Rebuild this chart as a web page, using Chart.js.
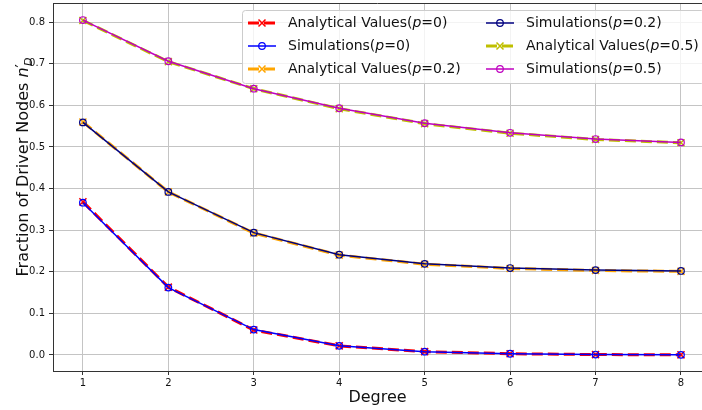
<!DOCTYPE html>
<html>
<head>
<meta charset="utf-8">
<script src="https://cdn.jsdelivr.net/npm/chart.js"></script>
<style>
html, body { margin: 0; padding: 0; background: #fff; }
#wrap { width: 702px; height: 410px; position: relative; }
</style>
</head>
<body>
<div id="wrap"><canvas id="driverNodesChart"></canvas></div>
<script>
// values
const degrees = [1, 2, 3, 4, 5, 6, 7, 8];
const yTickValues = [0, 0.1, 0.2, 0.3, 0.4, 0.5, 0.6, 0.7, 0.8];

const analyticalP0 = [0.368, 0.163, 0.060, 0.022, 0.008, 0.003, 0.001, 0.0004];
const simulationsP0 = [0.366, 0.162, 0.061, 0.022, 0.008, 0.003, 0.001, 0.0003];
const analyticalP02 = [0.560, 0.392, 0.293, 0.240, 0.218, 0.208, 0.203, 0.201];
const simulationsP02 = [0.559, 0.392, 0.294, 0.241, 0.219, 0.209, 0.204, 0.202];
const analyticalP05 = [0.804, 0.705, 0.640, 0.592, 0.556, 0.533, 0.518, 0.510];
const simulationsP05 = [0.805, 0.706, 0.640, 0.593, 0.557, 0.534, 0.519, 0.511];

const seriesLabels = [
    'Analytical Values(p=0)',
    'Simulations(p=0)',
    'Analytical Values(p=0.2)',
    'Simulations(p=0.2)',
    'Analytical Values(p=0.5)',
    'Simulations(p=0.5)'
];
const seriesValues = [analyticalP0, simulationsP0, analyticalP02, simulationsP02, analyticalP05, simulationsP05];
const seriesColors = ['#ff0000', '#0000ff', '#ffa500', '#000080', '#bfbf00', '#bf00bf'];

const FONT = '"DejaVu Sans", "Liberation Sans", sans-serif';

function makeDataset(i) {
    const analytical = i % 2 === 0;
    return {
        label: seriesLabels[i],
        data: degrees.map((d, k) => ({ x: d, y: seriesValues[i][k] })),
        borderColor: seriesColors[i],
        backgroundColor: 'rgba(0,0,0,0)',
        borderWidth: analytical ? 3 : 1.5,
        borderDash: analytical ? [11, 5] : [],
        pointStyle: analytical ? 'crossRot' : 'circle',
        pointRadius: analytical ? 5 : 3.3,
        pointBorderWidth: analytical ? 1.5 : 1.2,
        pointBorderColor: seriesColors[i],
        pointBackgroundColor: 'rgba(0,0,0,0)',
        pointHoverRadius: analytical ? 5 : 3.3,
        tension: 0,
        order: seriesLabels.length - 1 - i
    };
}

function drawMarker(ctx, analytical, x, y, color) {
    ctx.save();
    ctx.setLineDash([]);
    ctx.strokeStyle = color;
    if (analytical) {
        const d = 3.5;
        ctx.lineWidth = 1.5;
        ctx.beginPath();
        ctx.moveTo(x - d, y - d); ctx.lineTo(x + d, y + d);
        ctx.moveTo(x - d, y + d); ctx.lineTo(x + d, y - d);
        ctx.stroke();
    } else {
        ctx.lineWidth = 1.2;
        ctx.beginPath();
        ctx.arc(x, y, 3.3, 0, Math.PI * 2);
        ctx.stroke();
    }
    ctx.restore();
}

function drawLabel(ctx, text, x, y) {
    const cut = text.indexOf('(p=') + 1;
    const parts = [[text.slice(0, cut), 'normal'], ['p', 'italic'], [text.slice(cut + 1), 'normal']];
    let cx = x;
    parts.forEach(([s, style]) => {
        ctx.font = style + ' 14px ' + FONT;
        ctx.fillText(s, cx, y);
        cx += ctx.measureText(s).width;
    });
}

const figurePlugin = {
    id: 'figurePlugin',
    beforeDraw: (chart) => {
        const ctx = chart.ctx;
        ctx.save();
        ctx.fillStyle = 'white';
        ctx.fillRect(0, 0, chart.width, chart.height);
        ctx.restore();
    },
    afterDraw: (chart) => {
        const ctx = chart.ctx;
        const area = chart.chartArea;
        ctx.save();

        // top spine
        ctx.strokeStyle = '#333';
        ctx.lineWidth = 1;
        ctx.beginPath();
        ctx.moveTo(area.left, area.top + 0.5);
        ctx.lineTo(area.right, area.top + 0.5);
        ctx.stroke();

        // y axis title with math-style n'_D
        ctx.fillStyle = '#111';
        ctx.textBaseline = 'alphabetic';
        const segs = [
            ['Fraction of Driver Nodes ', 'normal 16px ' + FONT, 0],
            ['n', 'italic 16px ' + FONT, 0],
            ['\u2032', 'normal 15px ' + FONT, -1],
            ['D', 'italic 11px ' + FONT, 4]
        ];
        let total = 0;
        segs.forEach(s => { ctx.font = s[1]; total += ctx.measureText(s[0]).width; });
        ctx.translate(28, 166 + total / 2);
        ctx.rotate(-Math.PI / 2);
        let tx = 0;
        segs.forEach((s, k) => {
            ctx.font = s[1];
            ctx.fillText(s[0], tx, s[2]);
            tx += ctx.measureText(s[0]).width - (k === 2 ? 2 : 0);
        });
        ctx.restore();

        // legend, two columns filled top to bottom
        ctx.save();
        ctx.fillStyle = 'rgba(255,255,255,0.8)';
        ctx.strokeStyle = '#cccccc';
        ctx.lineWidth = 1;
        ctx.beginPath();
        ctx.roundRect(242.5, 10.5, 462, 73, 3);
        ctx.fill();
        ctx.stroke();

        const colX = [248, 486];
        const rowY = [23, 46, 69];
        chart.data.datasets.forEach((ds, i) => {
            const col = Math.floor(i / 3);
            const row = i % 3;
            const x0 = colX[col];
            const y = rowY[row];
            const analytical = i % 2 === 0;
            ctx.save();
            ctx.strokeStyle = ds.borderColor;
            ctx.lineWidth = ds.borderWidth;
            ctx.setLineDash(ds.borderDash);
            ctx.beginPath();
            ctx.moveTo(x0, y);
            ctx.lineTo(x0 + 28, y);
            ctx.stroke();
            ctx.restore();
            drawMarker(ctx, analytical, x0 + 14, y, ds.borderColor);
            ctx.fillStyle = '#111';
            ctx.textBaseline = 'middle';
            drawLabel(ctx, ds.label, x0 + 40, y);
        });
        ctx.restore();
    }
};

const driverNodesChart = new Chart(document.getElementById('driverNodesChart'), {
    type: 'line',
    data: {
        datasets: seriesLabels.map((l, i) => makeDataset(i))
    },
    options: {
        animation: false,
        responsive: true,
        maintainAspectRatio: false,
        layout: { autoPadding: false, padding: { top: 3, right: 0, left: 0, bottom: 0 } },
        plugins: {
            legend: { display: false },
            tooltip: { enabled: false },
            title: { display: false }
        },
        scales: {
            x: {
                type: 'linear',
                min: 0.65,
                max: 8.246,
                afterBuildTicks: (scale) => { scale.ticks = degrees.map(v => ({ value: v })); },
                afterFit: (scale) => {
                    scale.height = 39;
                    scale.paddingLeft = 0;
                    scale.paddingRight = 0;
                },
                ticks: {
                    color: '#111',
                    font: { family: FONT, size: 10 },
                    padding: 2,
                    maxRotation: 0,
                    callback: (v) => String(v)
                },
                grid: {
                    color: '#c4c4c4',
                    lineWidth: 1,
                    drawTicks: true,
                    tickLength: 4,
                    tickColor: '#333'
                },
                border: { color: '#333', width: 1 },
                title: {
                    display: true,
                    text: 'Degree',
                    color: '#111',
                    font: { family: FONT, size: 16 },
                    padding: { top: 0, bottom: 3 }
                }
            },
            y: {
                type: 'linear',
                min: -0.0385,
                max: 0.846,
                afterBuildTicks: (scale) => { scale.ticks = yTickValues.map(v => ({ value: v })); },
                afterFit: (scale) => {
                    scale.width = 53;
                    scale.paddingTop = 0;
                    scale.paddingBottom = 0;
                },
                ticks: {
                    color: '#111',
                    font: { family: FONT, size: 10 },
                    padding: 4,
                    callback: (v) => v.toFixed(1)
                },
                grid: {
                    color: '#c4c4c4',
                    lineWidth: 1,
                    drawTicks: true,
                    tickLength: 4,
                    tickColor: '#333'
                },
                border: { color: '#333', width: 1 }
            }
        }
    },
    plugins: [figurePlugin]
});
</script>
</body>
</html>
